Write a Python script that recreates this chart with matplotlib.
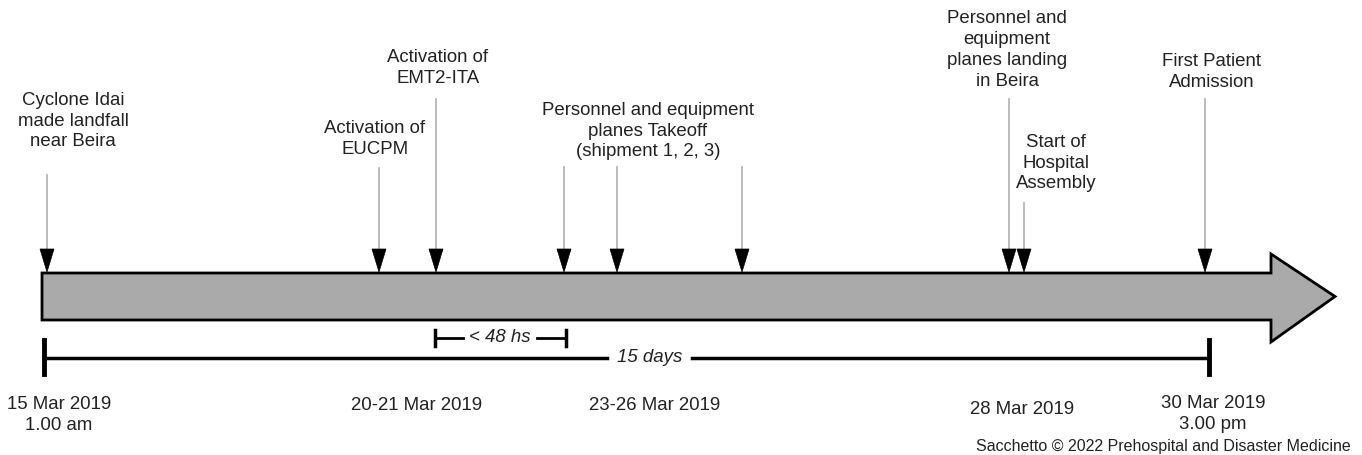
import matplotlib.pyplot as plt
from matplotlib.patches import Polygon

plt.rcParams['font.family'] = ['Liberation Sans', 'DejaVu Sans']

# timeline positions (in drawing units, left to right)
event_pos = [47, 379, 436, 564, 617, 742, 1009, 1024, 1205]
stem_top = [175, 168, 99, 167, 167, 167, 99, 203, 99]

event_labels = [
    'Cyclone Idai\nmade landfall\nnear Beira',
    'Activation of\nEUCPM',
    'Activation of\nEMT2-ITA',
    'Personnel and equipment\nplanes Takeoff\n(shipment 1, 2, 3)',
    'Personnel and\nequipment\nplanes landing\nin Beira',
    'Start of\nHospital\nAssembly',
    'First Patient\nAdmission',
]
label_x = [73, 375, 438, 648, 1007, 1056, 1212]
label_y = [121, 139, 68, 131, 50, 163, 72]

date_labels = ['15 Mar 2019\n1.00 am', '20-21 Mar 2019', '23-26 Mar 2019',
               '28 Mar 2019', '30 Mar 2019\n3.00 pm']
date_x = [59, 417, 655, 1022, 1213]
date_y = [415, 406, 406, 409, 414]

span_48 = (435, 566)
span_15 = (44, 1209)

body_top, body_bot = 273, 320
body_end, head_top, head_bot, tip = 1271, 254, 342, 1335

fig = plt.figure(figsize=(13.62, 4.55), dpi=100)
ax = fig.add_axes([0, 0, 1, 1])
ax.set_xlim(0, 1362)
ax.set_ylim(455, 0)
ax.axis('off')

fs = 13.4

# big timeline arrow
mid = (body_top + body_bot) / 2
ax.add_patch(Polygon([(42, body_top), (body_end, body_top), (body_end, head_top),
                      (tip, mid), (body_end, head_bot), (body_end, body_bot),
                      (42, body_bot)], closed=True, facecolor='#aaaaaa',
                     edgecolor='black', linewidth=2, joinstyle='miter', zorder=1))

# event pointers
for x, top in zip(event_pos, stem_top):
    ax.plot([x, x], [top, body_top - 20], color='#b0b0b0', lw=1.2, zorder=2)
    ax.add_patch(Polygon([(x - 7, body_top - 24), (x + 7, body_top - 24), (x, body_top - 1)],
                         closed=True, facecolor='black', edgecolor='black', lw=0.5, zorder=3))

for txt, x, y in zip(event_labels, label_x, label_y):
    ax.text(x, y, txt, ha='center', va='center', fontsize=fs, color='#222222',
            linespacing=1.3)

for txt, x, y in zip(date_labels, date_x, date_y):
    ax.text(x, y, txt, ha='center', va='center', fontsize=fs, color='#222222',
            linespacing=1.3)

# < 48 hs bracket
y48 = 338
ax.plot([span_48[0], 463], [y48, y48], color='black', lw=2)
ax.plot([537, span_48[1]], [y48, y48], color='black', lw=2)
for x in span_48:
    ax.plot([x, x], [330, 346], color='black', lw=2.5)
ax.text(500, y48, '< 48 hs', ha='center', va='center', fontsize=fs,
        style='italic', color='#222222')

# 15 days span
y15 = 358
ax.plot([span_15[0], 607], [y15, y15], color='black', lw=2.5)
ax.plot([692, span_15[1]], [y15, y15], color='black', lw=2.5)
for x in span_15:
    ax.plot([x, x], [340, 374], color='black', lw=3.5)
ax.text(650, y15, '15 days', ha='center', va='center', fontsize=fs,
        style='italic', color='#222222')

ax.text(1351, 446, 'Sacchetto \u00a9 2022 Prehospital and Disaster Medicine',
        ha='right', va='center', fontsize=11.5, color='#222222')

fig.savefig('out.png', dpi=100)
